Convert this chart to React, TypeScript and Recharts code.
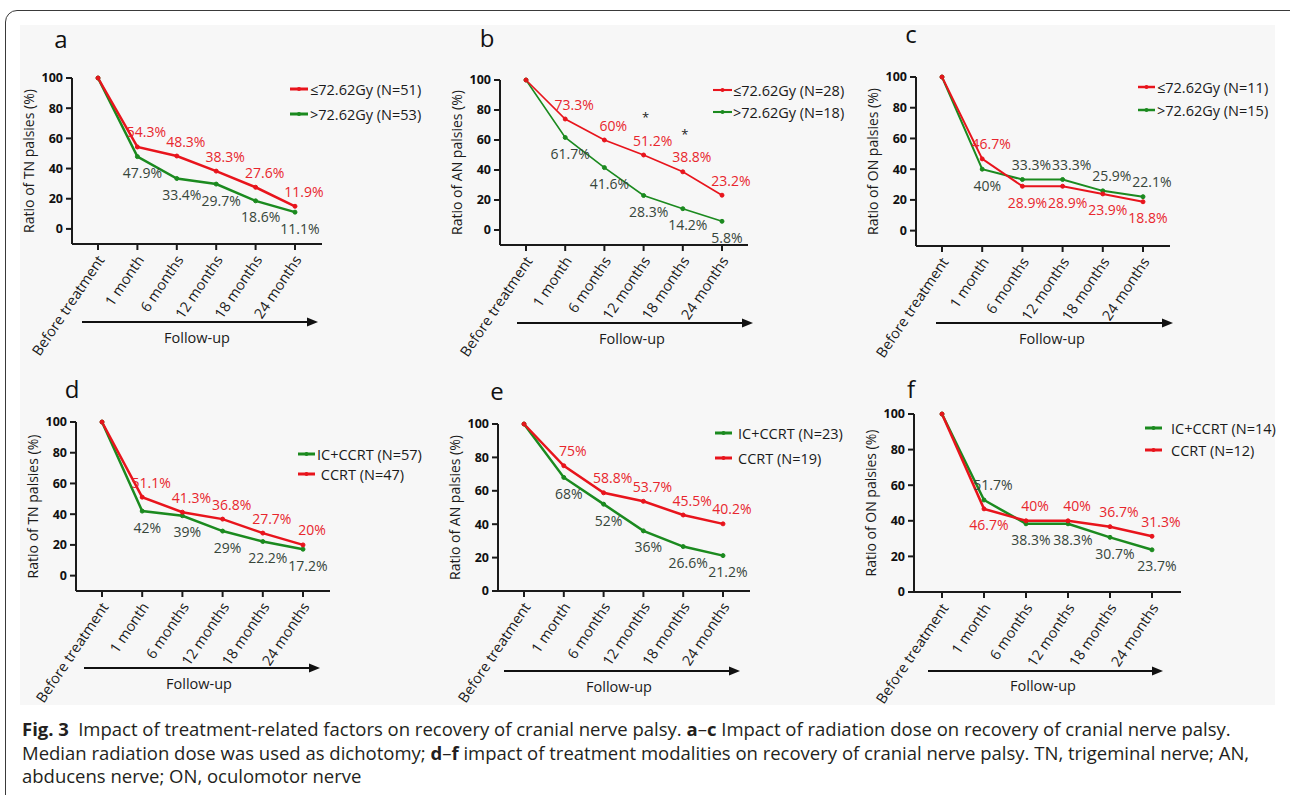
import { LineChart, Line, XAxis, YAxis, LabelList } from 'recharts';

const categories = ['Before treatment', '1 month', '6 months', '12 months', '18 months', '24 months'];
const yTicks = [0, 20, 40, 60, 80, 100];

// a - TN palsies, radiation dose
const tnLowDose = [100, 54.3, 48.3, 38.3, 27.6, 15];
const tnLowDoseText = ['', '54.3%', '48.3%', '38.3%', '27.6%', '11.9%'];
const tnHighDose = [100, 47.9, 33.4, 29.7, 18.6, 11.1];

// b - AN palsies, radiation dose
const anLowDose = [100, 74, 60, 50, 38.8, 23.2];
const anLowDoseText = ['', '73.3%', '60%', '51.2%', '38.8%', '23.2%'];
const anHighDose = [100, 61.7, 41.6, 23, 14.2, 5.8];
const anHighDoseText = ['', '61.7%', '41.6%', '28.3%', '14.2%', '5.8%'];
const anStars = ['', '', '', '*', '*', ''];

// c - ON palsies, radiation dose
const onLowDose = [100, 46.7, 28.9, 28.9, 23.9, 18.8];
const onHighDose = [100, 40, 33.3, 33.3, 25.9, 22.1];

// d - TN palsies, treatment modality
const tnIc = [100, 42, 39, 29, 22.2, 17.2];
const tnCcrt = [100, 51.1, 41.3, 36.8, 27.7, 20];

// e - AN palsies, treatment modality
const anIc = [100, 68, 52, 36, 26.6, 21.2];
const anCcrt = [100, 75, 58.8, 53.7, 45.5, 40.2];

// f - ON palsies, treatment modality
const onIc = [100, 51.7, 38.3, 38.3, 30.7, 23.7];
const onCcrt = [100, 46.7, 40, 40, 36.7, 31.3];

const RED = '#e8141c';
const GREEN = '#1b8a1f';
const RED_TXT = '#e8262d';
const GREEN_TXT = '#36453a';
const FONT = '"Open Sans", "DejaVu Sans", sans-serif';

type Series = { key: string; name: string; color: string; txt: string; values: number[]; text?: string[]; stars?: string[] };

const panels = [
  {
    letter: 'a', yLabel: 'Ratio of TN palsies (%)', min: -10, sw: 2.5,
    g: { axisX: 72, y100: 78, axisY: 244, axisEnd: 322, cat0: 98, cat5: 295 },
    letterPos: [61, 38], legend: { x1: 290, x2: 308, tx: 310, y: [89, 114] },
    arrow: { x1: 82, x2: 318, y: 322 }, follow: [197, 337],
    series: [
      { key: 'low', name: '≤72.62Gy (N=51)', color: RED, txt: RED_TXT, values: tnLowDose, text: tnLowDoseText },
      { key: 'high', name: '>72.62Gy (N=53)', color: GREEN, txt: GREEN_TXT, values: tnHighDose },
    ] as Series[],
  },
  {
    letter: 'b', yLabel: 'Ratio of AN palsies (%)', min: -10, sw: 1.6,
    g: { axisX: 500, y100: 80, axisY: 245, axisEnd: 748, cat0: 526, cat5: 722 },
    letterPos: [487, 37], legend: { x1: 713, x2: 732, tx: 733, y: [90, 112] },
    arrow: { x1: 517, x2: 753, y: 323 }, follow: [632, 338],
    series: [
      { key: 'low', name: '≤72.62Gy (N=28)', color: RED, txt: RED_TXT, values: anLowDose, text: anLowDoseText, stars: anStars },
      { key: 'high', name: '>72.62Gy (N=18)', color: GREEN, txt: GREEN_TXT, values: anHighDose, text: anHighDoseText },
    ] as Series[],
  },
  {
    letter: 'c', yLabel: 'Ratio of ON palsies (%)', min: -10, sw: 2,
    g: { axisX: 916, y100: 77, axisY: 246, axisEnd: 1170, cat0: 942, cat5: 1143 },
    letterPos: [911, 33], legend: { x1: 1138, x2: 1155, tx: 1157, y: [87, 110] },
    arrow: { x1: 936, x2: 1173, y: 323 }, follow: [1052, 338],
    series: [
      { key: 'low', name: '≤72.62Gy (N=11)', color: RED, txt: RED_TXT, values: onLowDose },
      { key: 'high', name: '>72.62Gy (N=15)', color: GREEN, txt: GREEN_TXT, values: onHighDose },
    ] as Series[],
  },
  {
    letter: 'd', yLabel: 'Ratio of TN palsies (%)', min: -10, sw: 2.5,
    g: { axisX: 76, y100: 422, axisY: 591, axisEnd: 330, cat0: 102, cat5: 303 },
    letterPos: [72, 388], legend: { x1: 298, x2: 315, tx: 317, y: [454, 474] },
    arrow: { x1: 84, x2: 320, y: 668 }, follow: [199, 683],
    series: [
      { key: 'ic', name: 'IC+CCRT (N=57)', color: GREEN, txt: GREEN_TXT, values: tnIc },
      { key: 'ccrt', name: ' CCRT (N=47)', color: RED, txt: RED_TXT, values: tnCcrt },
    ] as Series[],
  },
  {
    letter: 'e', yLabel: 'Ratio of AN palsies (%)', min: 0, sw: 2.5,
    g: { axisX: 498, y100: 424, axisY: 591, axisEnd: 750, cat0: 524, cat5: 723 },
    letterPos: [497, 390], legend: { x1: 715, x2: 732, tx: 738, y: [433, 458] },
    arrow: { x1: 504, x2: 740, y: 671 }, follow: [619, 686],
    series: [
      { key: 'ic', name: 'IC+CCRT (N=23)', color: GREEN, txt: GREEN_TXT, values: anIc },
      { key: 'ccrt', name: 'CCRT (N=19)', color: RED, txt: RED_TXT, values: anCcrt },
    ] as Series[],
  },
  {
    letter: 'f', yLabel: 'Ratio of ON palsies (%)', min: 0, sw: 2.5,
    g: { axisX: 914, y100: 414, axisY: 592, axisEnd: 1181, cat0: 942, cat5: 1152 },
    letterPos: [911, 388], legend: { x1: 1145, x2: 1162, tx: 1171, y: [428, 450] },
    arrow: { x1: 928, x2: 1163, y: 671 }, follow: [1043, 685],
    series: [
      { key: 'ic', name: 'IC+CCRT (N=14)', color: GREEN, txt: GREEN_TXT, values: onIc },
      { key: 'ccrt', name: 'CCRT (N=12)', color: RED, txt: RED_TXT, values: onCcrt },
    ] as Series[],
  },
];

const CatTick = (props: any) => {
  const { x, y, payload } = props;
  return (
    <g transform={`translate(${x + 3},${y + 5})`}>
      <text transform="rotate(-56)" textAnchor="end" dy="0.35em" fontSize={14.5} fontFamily={FONT} fill="#1a1a1a">
        {payload.value}
      </text>
    </g>
  );
};

const makeLabel = (s: Series, other: Series) => (props: any) => {
  const { x, y, index } = props;
  if (index === 0 || x == null) return null;
  const above = s.values[index] >= other.values[index];
  const txt = s.text ? s.text[index] : `${s.values[index]}%`;
  const star = s.stars ? s.stars[index] : '';
  return (
    <g>
      <text x={x + (above ? 9 : 5)} y={y + (above ? -15 : 16)} textAnchor="middle" dominantBaseline="central"
        fontSize={14} fontFamily={FONT} fill={s.txt}>{txt}</text>
      {star && (
        <text x={x + 2} y={y - 38} textAnchor="middle" dominantBaseline="central" fontSize={13} fontFamily={FONT} fill="#222">{star}</text>
      )}
    </g>
  );
};

function Panel({ p }: { p: typeof panels[number] }) {
  const YW = 60, MT = 10, XH = 110;
  const { g } = p;
  const W = YW + (g.axisEnd - g.axisX) + 5;
  const H = MT + (g.axisY - g.y100) + XH + 5;
  const rows = categories.map((c, i) => {
    const r: any = { cat: c };
    p.series.forEach((s) => { r[s.key] = s.values[i]; });
    return r;
  });
  const drawOrder = [...p.series].sort((a) => (a.color === RED ? 1 : -1));
  return (
    <div style={{ position: 'absolute', left: g.axisX - YW, top: g.y100 - MT }}>
      <LineChart width={W} height={H} data={rows} margin={{ top: MT, right: 5, bottom: 5, left: 0 }}>
        <XAxis dataKey="cat" type="category" height={XH} interval={0}
          padding={{ left: g.cat0 - g.axisX, right: g.axisEnd - g.cat5 }}
          axisLine={{ stroke: '#1a1a1a', strokeWidth: 2 }} tickLine={{ stroke: '#1a1a1a', strokeWidth: 2 }}
          tickSize={6} tickMargin={2} tick={<CatTick />} />
        <YAxis type="number" domain={[p.min, 100]} ticks={yTicks} width={YW} interval={0}
          axisLine={{ stroke: '#1a1a1a', strokeWidth: 2 }} tickLine={{ stroke: '#1a1a1a', strokeWidth: 2 }}
          tickSize={6} tickMargin={3}
          tick={{ fontSize: 12.5, fontWeight: 700, fill: '#111', fontFamily: FONT }} />
        {drawOrder.map((s) => {
          const other = p.series.find((o) => o.key !== s.key)!;
          return (
            <Line key={s.key} dataKey={s.key} name={s.name} type="linear" stroke={s.color} strokeWidth={p.sw}
              dot={{ r: 2, fill: s.color, stroke: s.color, strokeWidth: 1 }} activeDot={false}
              isAnimationActive={false}>
              <LabelList dataKey={s.key} content={makeLabel(s, other)} />
            </Line>
          );
        })}
      </LineChart>
    </div>
  );
}

function Overlay() {
  return (
    <svg width={1290} height={795} style={{ position: 'absolute', left: 0, top: 0, pointerEvents: 'none' }}>
      {panels.map((p) => {
        const cy = (p.g.y100 + p.g.axisY) / 2;
        const lx = p.g.axisX - 44;
        return (
          <g key={p.letter} fontFamily={FONT}>
            <text x={p.letterPos[0]} y={p.letterPos[1]} textAnchor="middle" dominantBaseline="central" fontSize={24} fill="#111">{p.letter}</text>
            <text x={lx} y={cy} transform={`rotate(-90 ${lx} ${cy})`} textAnchor="middle" dominantBaseline="central" fontSize={14} fill="#1a1a1a">{p.yLabel}</text>
            {p.series.map((s, i) => (
              <g key={s.key}>
                <line x1={p.legend.x1} x2={p.legend.x2} y1={p.legend.y[i]} y2={p.legend.y[i]} stroke={s.color} strokeWidth={p.sw + 0.5} />
                <circle cx={(p.legend.x1 + p.legend.x2) / 2} cy={p.legend.y[i]} r={2} fill={s.color} />
                <text x={p.legend.tx} y={p.legend.y[i]} dominantBaseline="central" fontSize={14.5} fill="#1a1a1a" style={{ whiteSpace: 'pre' }}>{s.name}</text>
              </g>
            ))}
            <line x1={p.arrow.x1} x2={p.arrow.x2 - 8} y1={p.arrow.y} y2={p.arrow.y} stroke="#111" strokeWidth={2} />
            <polygon points={`${p.arrow.x2},${p.arrow.y} ${p.arrow.x2 - 11},${p.arrow.y - 4.5} ${p.arrow.x2 - 11},${p.arrow.y + 4.5}`} fill="#111" />
            <text x={p.follow[0]} y={p.follow[1]} textAnchor="middle" dominantBaseline="central" fontSize={14.5} fill="#1a1a1a">Follow-up</text>
          </g>
        );
      })}
    </svg>
  );
}

export default function App() {
  return (
    <div style={{ position: 'absolute', left: 0, top: 0, width: 1290, height: 795, overflow: 'hidden', background: '#fff', fontFamily: FONT }}>
      <div style={{ position: 'absolute', left: 5, top: 10, width: 1300, height: 820, border: '1.5px solid #3a3a3a', borderRadius: 12 }} />
      <div style={{ position: 'absolute', left: 20, top: 25, width: 1255, height: 680, background: '#f7f7f7' }} />
      {panels.map((p) => <Panel key={p.letter} p={p} />)}
      <Overlay />
      <div style={{ position: 'absolute', left: 22, top: 717, fontSize: 18.5, lineHeight: '23.7px', color: '#231f20', whiteSpace: 'nowrap' }}>
        <b>Fig. 3</b>{'\u2002'}Impact of treatment-related factors on recovery of cranial nerve palsy. <b>a</b>–<b>c</b> Impact of radiation dose on recovery of cranial nerve palsy.<br />
        Median radiation dose was used as dichotomy; <b>d</b>–<b>f</b> impact of treatment modalities on recovery of cranial nerve palsy. TN, trigeminal nerve; AN,<br />
        abducens nerve; ON, oculomotor nerve
      </div>
    </div>
  );
}
